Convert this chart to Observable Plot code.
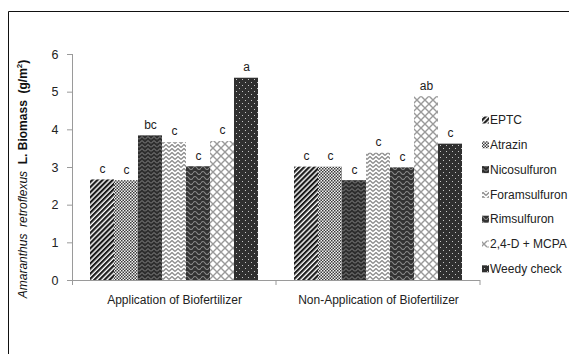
<!DOCTYPE html>
<html>
<head>
<meta charset="utf-8">
<script src="https://cdn.jsdelivr.net/npm/d3@7"></script>
<script src="https://cdn.jsdelivr.net/npm/@observablehq/plot@0.6"></script>
<style>
  body { margin: 0; background: #fff; }
  #chart { position: relative; width: 569px; height: 354px; overflow: hidden; }
  #chart svg { display: block; }
</style>
</head>
<body>
<div id="chart"></div>
<script>
// Biomass of Amaranthus retroflexus (g/m²) under herbicide treatments
const groups = ["Application of Biofertilizer", "Non-Application of Biofertilizer"];
const herbicides = ["EPTC", "Atrazin", "Nicosulfuron", "Foramsulfuron", "Rimsulfuron", "2,4-D + MCPA", "Weedy check"];
const withBio = [2.67, 2.65, 3.84, 3.66, 3.02, 3.69, 5.37];
const withoutBio = [3.01, 3.01, 2.65, 3.38, 2.99, 4.88, 3.62];
const lettersWith = ["c", "c", "bc", "c", "c", "c", "a"];
const lettersWithout = ["c", "c", "c", "c", "c", "ab", "c"];
const yTicks = [0, 1, 2, 3, 4, 5, 6];

const rows = [];
groups.forEach((group, gi) => {
  herbicides.forEach((herbicide, hi) => {
    rows.push({
      group,
      herbicide,
      value: gi === 0 ? withBio[hi] : withoutBio[hi],
      letter: gi === 0 ? lettersWith[hi] : lettersWithout[hi]
    });
  });
});

const fills = herbicides.map((_, i) => `url(#hatch-${i})`);
const font = "'Liberation Sans', Arial, sans-serif";

const plot = Plot.plot({
  width: 569,
  height: 354,
  marginLeft: 71,
  marginRight: 89,
  marginTop: 54,
  marginBottom: 74,
  style: { fontFamily: font, fontSize: "12px", color: "#222", background: "white" },
  fx: { domain: groups, padding: 0, axis: null, label: null },
  x: { domain: herbicides, paddingInner: 0, paddingOuter: 0.71, axis: null },
  y: { domain: [0, 6], axis: null },
  color: { type: "ordinal", domain: herbicides, range: fills },
  marks: [
    Plot.barY(rows, { fx: "group", x: "herbicide", y: "value", fill: "herbicide" }),
    Plot.text(rows, { fx: "group", x: "herbicide", y: "value", text: "letter", dy: -11, fontSize: 12, fill: "#222" }),
    Plot.ruleY([0], { stroke: "#9a9a9a" }),
    Plot.axisY({ ticks: yTicks, tickFormat: d3.format("d"), tickSize: 5, tickPadding: 9, stroke: "#9a9a9a", fill: "#222", label: null, fontSize: 12.5 }),
    Plot.axisFx({ anchor: "bottom", tickSize: 0, tickPadding: 15, label: null, fontSize: 12, fill: "#222" })
  ]
});

const svg = d3.select(plot);

// Hatch patterns used for the bars and legend swatches
const defs = svg.insert("defs", ":first-child");
function pattern(id, w, h, transform) {
  const p = defs.append("pattern")
    .attr("id", id)
    .attr("patternUnits", "userSpaceOnUse")
    .attr("width", w)
    .attr("height", h);
  if (transform) p.attr("patternTransform", transform);
  return p;
}
// EPTC: bold diagonal stripes
let p = pattern("hatch-0", 3.6, 3.6, "rotate(45)");
p.append("rect").attr("width", 3.6).attr("height", 3.6).attr("fill", "#fff");
p.append("rect").attr("width", 2.2).attr("height", 3.6).attr("fill", "#1a1a1a");
// Atrazin: fine checker
p = pattern("hatch-1", 3, 3);
p.append("rect").attr("width", 3).attr("height", 3).attr("fill", "#f2f2f2");
p.append("rect").attr("width", 1.5).attr("height", 1.5).attr("fill", "#3a3a3a");
p.append("rect").attr("x", 1.5).attr("y", 1.5).attr("width", 1.5).attr("height", 1.5).attr("fill", "#3a3a3a");
// Nicosulfuron: dark with grey zigzags
p = pattern("hatch-2", 6, 4);
p.append("rect").attr("width", 6).attr("height", 4).attr("fill", "#2e2e2e");
p.append("path").attr("d", "M0,3.5L3,0.5L6,3.5").attr("fill", "none").attr("stroke", "#8a8a8a").attr("stroke-width", 1);
// Foramsulfuron: light zigzags
p = pattern("hatch-3", 6, 4);
p.append("rect").attr("width", 6).attr("height", 4).attr("fill", "#fff");
p.append("path").attr("d", "M0,3.5L3,0.5L6,3.5").attr("fill", "none").attr("stroke", "#8c8c8c").attr("stroke-width", 1.3);
// Rimsulfuron: dark with grey waves
p = pattern("hatch-4", 8, 5);
p.append("rect").attr("width", 8).attr("height", 5).attr("fill", "#333");
p.append("path").attr("d", "M0,3Q2,0 4,3T8,3").attr("fill", "none").attr("stroke", "#8a8a8a").attr("stroke-width", 1.1);
// 2,4-D + MCPA: open diamond lattice
p = pattern("hatch-5", 8, 8);
p.append("rect").attr("width", 8).attr("height", 8).attr("fill", "#fff");
p.append("path").attr("d", "M0,0L8,8M8,0L0,8").attr("fill", "none").attr("stroke", "#9a9a9a").attr("stroke-width", 1.4);
// Weedy check: dark with light dots
p = pattern("hatch-6", 6, 6);
p.append("rect").attr("width", 6).attr("height", 6).attr("fill", "#303030");
p.append("rect").attr("x", 1).attr("y", 1).attr("width", 1).attr("height", 1).attr("fill", "#c8c8c8");
p.append("rect").attr("x", 4).attr("y", 4).attr("width", 1).attr("height", 1).attr("fill", "#c8c8c8");

// Axis lines and group separator ticks, placed from the plot's own scales
const yScale = plot.scale("y");
const fxScale = plot.scale("fx");
const y0 = yScale.apply(0);
const yTop = yScale.apply(6);
const axes = svg.append("g").attr("stroke", "#9a9a9a").attr("fill", "none");
const left = fxScale.apply(groups[0]);
axes.append("line").attr("x1", left + 0.5).attr("x2", left + 0.5).attr("y1", yTop).attr("y2", y0 + 5);
const bounds = groups.map(g => fxScale.apply(g)).concat([fxScale.apply(groups[groups.length - 1]) + fxScale.bandwidth]);
bounds.slice(1).forEach(bx => {
  axes.append("line").attr("x1", bx).attr("x2", bx).attr("y1", y0).attr("y2", y0 + 5);
});

// Y axis title with italic species name
const title = svg.append("text")
  .attr("transform", `translate(23,${(y0 + yTop) / 2 + 12}) rotate(-90)`)
  .attr("text-anchor", "middle")
  .attr("dy", "0.35em")
  .attr("fill", "#111")
  .attr("font-family", font)
  .attr("font-size", 12);
title.append("tspan").attr("font-style", "italic").text("Amaranthus  retroflexus  ");
title.append("tspan").attr("font-weight", "bold").text("L. Biomass  (g/m");
title.append("tspan").attr("font-weight", "bold").attr("font-size", 8).attr("dy", "-0.6em").text("2");
title.append("tspan").attr("font-weight", "bold").attr("dy", "0.35em").text(")");

// Legend on the right
const legend = svg.append("g")
  .attr("font-family", font)
  .attr("font-size", 12)
  .attr("fill", "#222")
  .attr("text-anchor", "start");
herbicides.forEach((h, i) => {
  const ry = 120 + i * 24.8;
  legend.append("rect").attr("x", 482).attr("y", ry - 3.5).attr("width", 7).attr("height", 7).attr("fill", fills[i]);
  legend.append("text").attr("x", 490).attr("y", ry).attr("dy", "0.35em").text(h);
});

// Outer frame
svg.append("path").attr("d", "M8.5,354V11.5H569").attr("fill", "none").attr("stroke", "#111");

document.getElementById("chart").appendChild(plot);
</script>
</body>
</html>
